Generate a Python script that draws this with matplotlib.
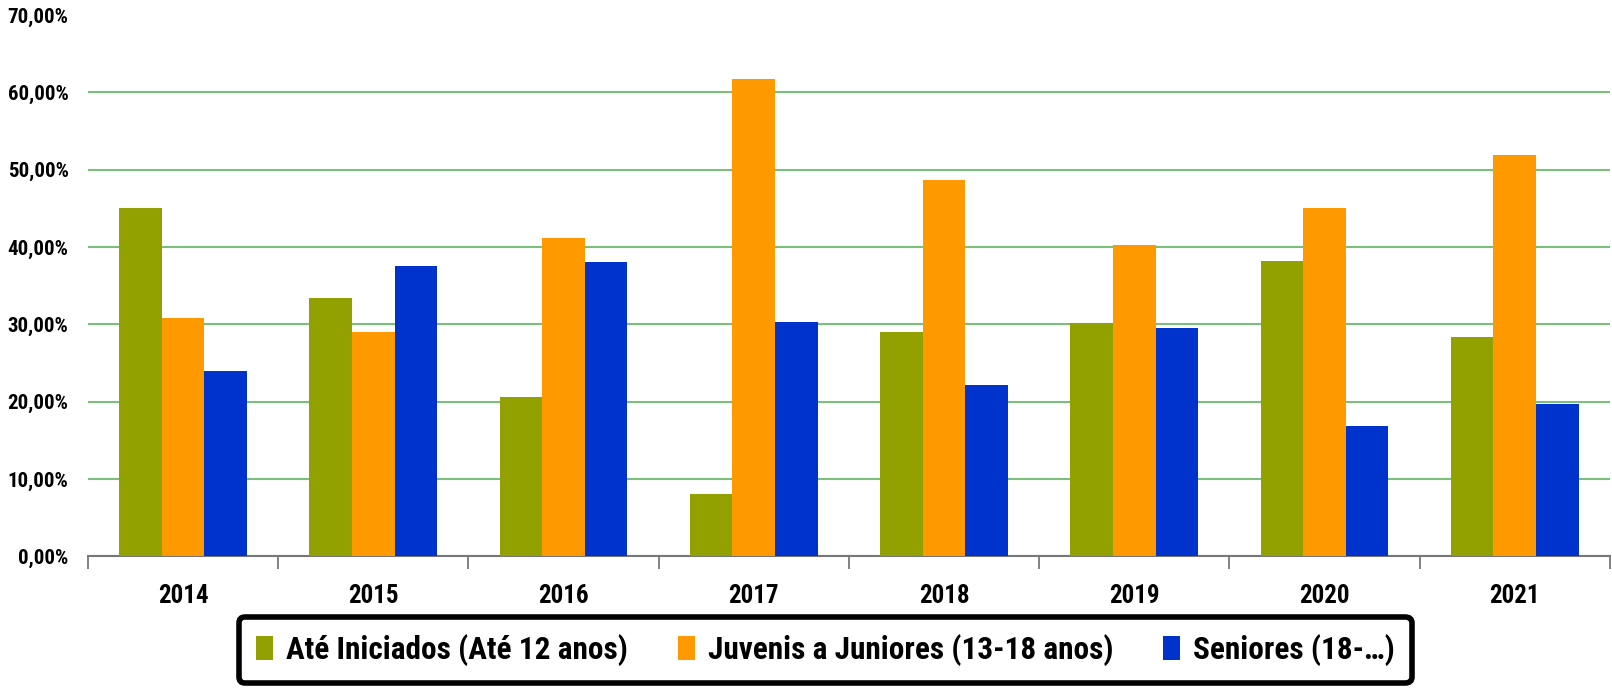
import matplotlib
matplotlib.use("Agg")
import matplotlib.pyplot as plt
from matplotlib import font_manager
from matplotlib.ticker import FuncFormatter, FixedLocator
import numpy as np

anos = ["2014", "2015", "2016", "2017", "2018", "2019", "2020", "2021"]
ate_iniciados = [45.1, 33.4, 20.6, 8.0, 29.0, 30.2, 38.2, 28.3]
juvenis_juniores = [30.8, 29.0, 41.2, 61.7, 48.7, 40.2, 45.0, 51.9]
seniores = [23.9, 37.5, 38.0, 30.3, 22.2, 29.5, 16.8, 19.7]
series_nomes = ["Até Iniciados (Até 12 anos)", "Juvenis a Juniores (13-18 anos)", "Seniores (18-…)"]

# pick a narrow font if one is around
nomes = {f.name for f in font_manager.fontManager.ttflist}
familia = "DejaVu Sans"
for cand in ["Liberation Sans Narrow", "DejaVu Sans Condensed", "Roboto Condensed"]:
    if cand in nomes:
        familia = cand
        break
plt.rcParams["font.family"] = [familia, "DejaVu Sans"]

cores = ["#92a000", "#ff9900", "#0033cc"]

fig = plt.figure(figsize=(16.12, 6.9), dpi=100)
ax = fig.add_axes([0.0546, 0.194, 0.944, 0.784])

x = np.arange(len(anos))
w = 0.224
for i, (vals, cor, nome) in enumerate(zip([ate_iniciados, juvenis_juniores, seniores], cores, series_nomes)):
    ax.bar(x + (i - 1) * w, vals, w, color=cor, label=nome, zorder=3)

ax.set_xlim(-0.5, len(anos) - 0.5)
ax.set_ylim(0, 70)
ax.set_yticks(np.arange(0, 71, 10))
ax.yaxis.set_major_formatter(FuncFormatter(lambda v, p: f"{v:.2f}%".replace(".", ",")))
ax.grid(axis="y", color="#7abf7a", linewidth=1.5, zorder=0)
ax.yaxis.get_gridlines()[-1].set_visible(False)
ax.set_xticks(x)
ax.set_xticklabels(anos)
ax.xaxis.set_minor_locator(FixedLocator(np.arange(-0.5, len(anos), 1)))
ax.tick_params(axis="x", which="major", length=0, pad=20, labelsize=18)
ax.tick_params(axis="x", which="minor", length=9, width=1.3, color="#777777")
ax.tick_params(axis="y", length=0, pad=14, labelsize=15)
for lab in ax.get_xticklabels() + ax.get_yticklabels():
    lab.set_fontweight("bold")

for s in ["top", "right", "left"]:
    ax.spines[s].set_visible(False)
ax.spines["bottom"].set_color("#777777")
ax.spines["bottom"].set_linewidth(1.5)

leg = fig.legend(loc="center", bbox_to_anchor=(0.512, 0.058), ncol=3, frameon=True,
                 prop={"size": 22.5, "weight": "bold"}, handlelength=0.55, handleheight=0.8,
                 handletextpad=0.4, columnspacing=1.6, borderpad=0.55, fancybox=True,
                 framealpha=1)
leg.get_frame().set_edgecolor("black")
leg.get_frame().set_linewidth(4)

fig.savefig("out.png", dpi=100)
